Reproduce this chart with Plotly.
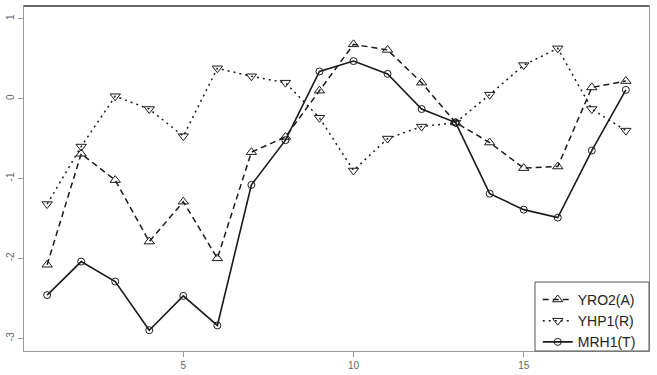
import plotly.graph_objects as go

x = list(range(1, 19))
yro2 = [-2.08, -0.69, -1.02, -1.79, -1.29, -2.00, -0.67, -0.48, 0.10,
        0.68, 0.61, 0.20, -0.30, -0.55, -0.87, -0.85, 0.14, 0.22]
yhp1 = [-1.32, -0.60, 0.03, -0.13, -0.47, 0.38, 0.28, 0.20, -0.24,
        -0.90, -0.50, -0.35, -0.30, 0.05, 0.42, 0.63, -0.13, -0.40]
mrh1 = [-2.46, -2.04, -2.29, -2.90, -2.47, -2.84, -1.08, -0.52, 0.34,
        0.47, 0.31, -0.13, -0.30, -1.19, -1.39, -1.49, -0.65, 0.11]
names = ["YRO2(A)", "YHP1(R)", "MRH1(T)"]
xticks = [5, 10, 15]
yticks = [-3, -2, -1, 0, 1]

line_col = "#1a1a1a"
fig = go.Figure()
fig.add_trace(go.Scatter(x=x, y=yro2, name=names[0], mode="lines+markers",
                         line=dict(color=line_col, width=1.5, dash="6px,4px"),
                         marker=dict(symbol="triangle-up-open", size=9, color=line_col, line=dict(width=1))))
fig.add_trace(go.Scatter(x=x, y=yhp1, name=names[1], mode="lines+markers",
                         line=dict(color=line_col, width=1.5, dash="2px,4px"),
                         marker=dict(symbol="triangle-down-open", size=9, color=line_col, line=dict(width=1))))
fig.add_trace(go.Scatter(x=x, y=mrh1, name=names[2], mode="lines+markers",
                         line=dict(color=line_col, width=1.6),
                         marker=dict(symbol="circle-open", size=7, color=line_col, line=dict(width=1))))

axcommon = dict(showgrid=False, zeroline=False, showline=True, linecolor="#9a9a9a",
                linewidth=1, mirror=True, ticks="outside", ticklen=5, tickcolor="#9a9a9a",
                automargin=False,
                tickfont=dict(family="Liberation Sans, Arial", size=10, color="#666"))
fig.update_xaxes(range=[0.32, 18.68], tickvals=xticks, ticktext=[str(v) for v in xticks], **axcommon)
fig.update_yaxes(range=[-3.16, 1.16], tickvals=yticks, ticktext=[str(v) for v in yticks],
                 tickangle=-90, **axcommon)

fig.add_shape(type="line", xref="paper", yref="paper", x0=0, x1=1, y0=1, y1=1,
              line=dict(color="#666", width=2))
# legend box
fig.add_shape(type="rect", xref="paper", yref="paper", x0=0.8176, x1=1, y0=0, y1=0.2,
              line=dict(color="#555", width=1), fillcolor="white", layer="above")

fig.update_layout(
    width=657, height=375,
    margin=dict(l=24, r=8, t=6, b=24),
    plot_bgcolor="white", paper_bgcolor="white",
    showlegend=True,
    legend=dict(x=0.822, y=-0.02, xanchor="left", yanchor="bottom",
                bgcolor="rgba(0,0,0,0)", borderwidth=0,
                font=dict(family="Liberation Sans, Arial", size=14, color="#222"),
                itemwidth=30, tracegroupgap=0),
)

fig.write_html("out.html", config={"displayModeBar": False},
               post_script="document.body.style.margin='0';document.body.style.padding='0';")
